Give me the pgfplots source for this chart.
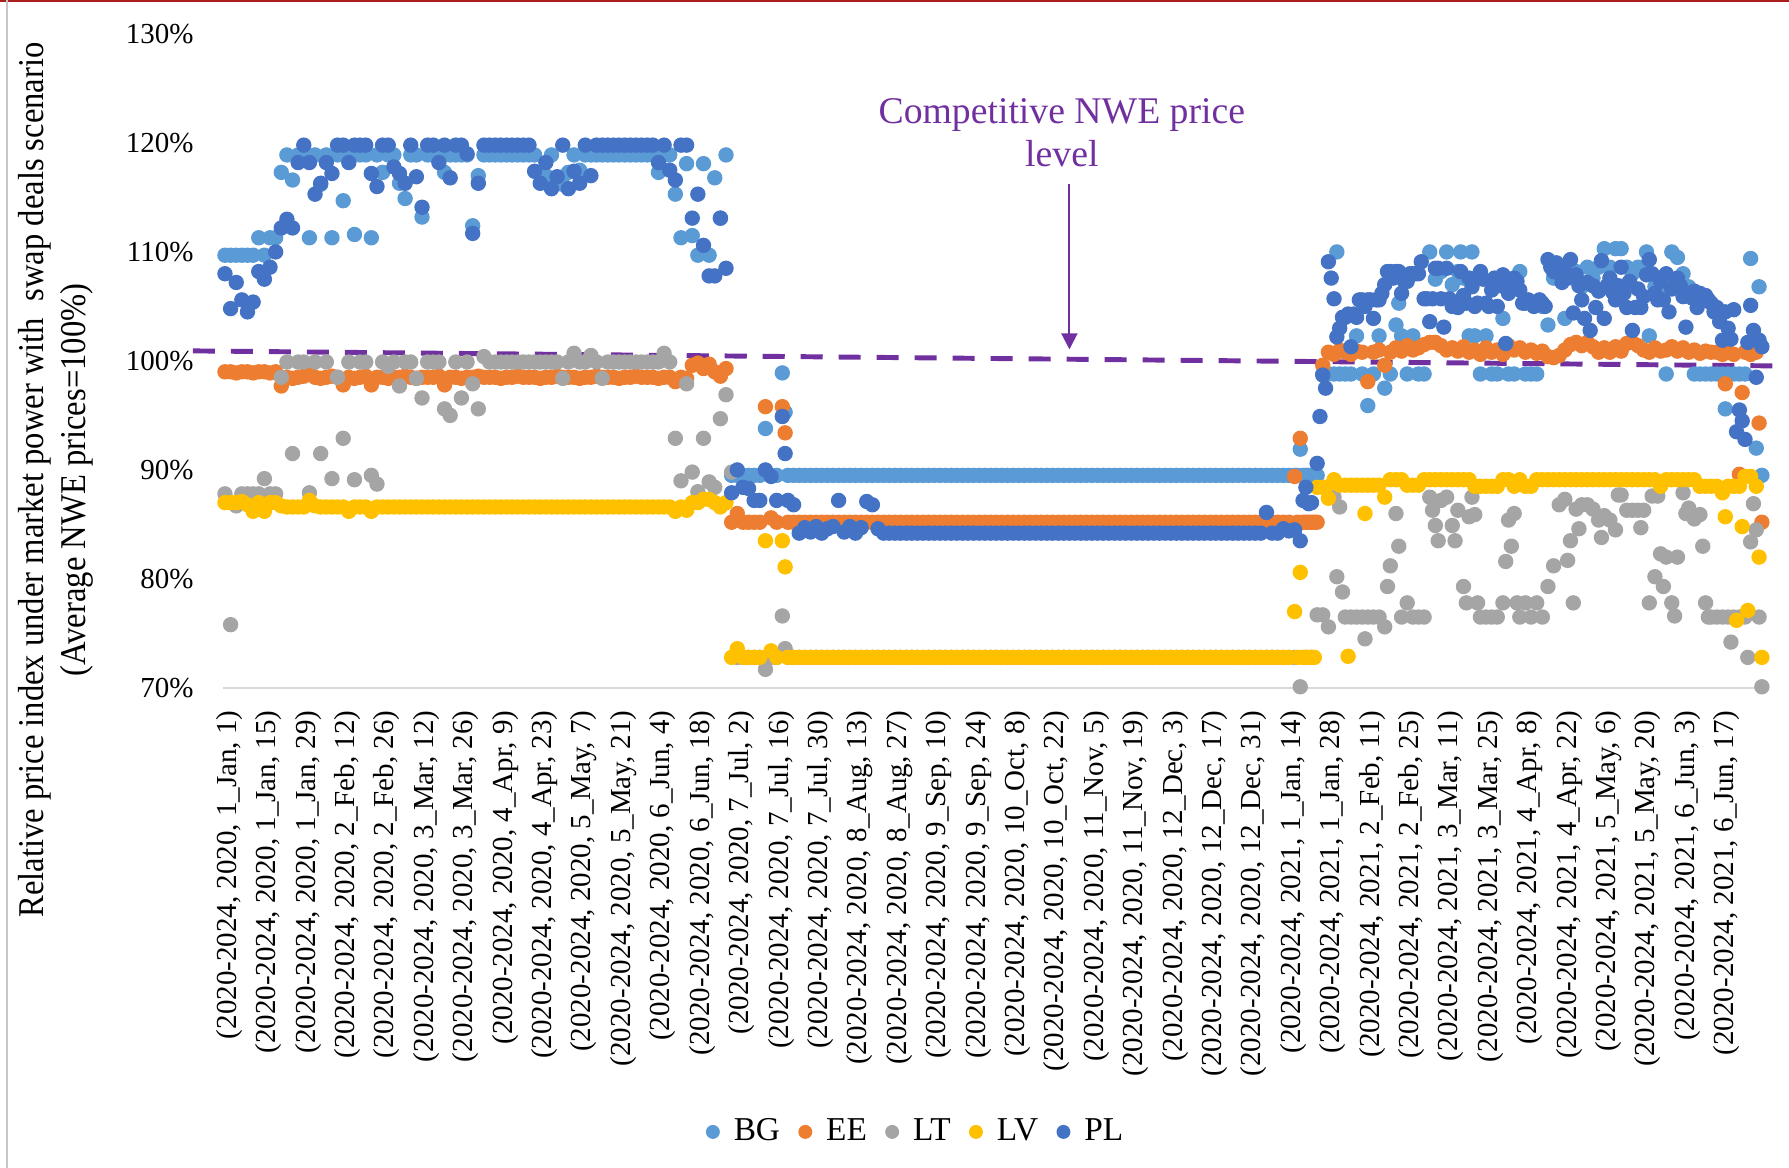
\documentclass[border=0pt]{standalone}
\usepackage{fontspec}
\setmainfont{Liberation Serif}
\usepackage{graphicx}
\usepackage{pgfplots}
\usepackage{pgfplotstable}
\pgfplotsset{compat=1.18}
\usetikzlibrary{arrows.meta}
\definecolor{cBG}{HTML}{5B9BD5}
\definecolor{cEE}{HTML}{ED7D31}
\definecolor{cLT}{HTML}{A5A5A5}
\definecolor{cLV}{HTML}{FFC000}
\definecolor{cPL}{HTML}{4472C4}
\definecolor{cPurple}{HTML}{7030A0}
\definecolor{cAxis}{HTML}{D9D9D9}

\pgfplotstableread{
d BG EE LT LV PL
0 109.7 99.0 87.8 87.0 108.0
2 109.7 99.0 75.8 87.0 104.8
4 109.7 98.9 86.7 87.0 107.2
6 109.7 99.0 87.8 87.1 105.6
8 109.7 99.0 87.8 86.8 104.5
10 109.7 98.9 87.8 86.2 105.4
12 111.3 99.0 87.8 87.0 108.2
14 109.7 99.0 89.2 86.2 107.5
16 111.3 98.9 87.8 87.0 108.6
18 111.3 99.0 87.8 87.0 110.0
20 117.3 97.7 98.5 86.7 112.2
22 118.9 98.5 99.9 86.6 113.0
24 116.6 98.4 91.5 86.6 112.2
26 118.9 98.5 99.9 86.6 118.2
28 118.9 98.6 99.9 86.6 119.8
30 111.3 99.0 87.9 87.2 118.2
32 118.9 98.5 99.9 86.7 115.3
34 116.2 98.4 91.5 86.6 116.3
36 118.9 98.5 99.9 86.6 118.2
38 111.3 98.6 89.2 86.6 117.2
40 118.9 98.5 98.5 86.6 119.8
42 114.7 97.8 92.9 86.6 119.8
44 118.9 98.5 99.9 86.2 118.2
46 111.6 98.4 89.1 86.6 119.8
48 118.9 98.5 99.9 86.6 119.8
50 118.9 98.6 99.9 86.6 119.8
52 111.3 97.8 89.5 86.2 117.2
54 118.9 98.5 88.7 86.6 116.0
56 117.3 98.5 99.9 86.6 119.8
58 118.9 98.4 99.5 86.6 119.8
60 118.9 98.5 99.9 86.6 117.8
62 116.3 98.5 97.7 86.6 117.2
64 114.9 98.6 99.9 86.6 116.3
66 118.9 98.5 99.9 86.6 119.8
68 118.9 98.4 98.4 86.6 116.9
70 113.2 98.5 96.6 86.6 114.1
72 118.9 98.5 99.9 86.6 119.8
74 118.9 98.5 99.9 86.6 119.8
76 118.9 98.6 99.9 86.6 118.2
78 117.3 97.8 95.6 86.6 119.8
80 118.9 98.5 95.0 86.6 116.8
82 118.9 98.5 99.9 86.6 119.8
84 118.9 98.4 96.6 86.6 119.8
86 118.9 98.5 99.9 86.6 119.0
88 112.4 98.5 97.9 86.6 111.7
90 117.0 98.6 95.6 86.6 116.3
92 118.9 98.5 100.4 86.6 119.8
94 118.9 98.5 99.9 86.6 119.8
96 118.9 98.5 99.9 86.6 119.8
98 118.9 98.4 99.9 86.6 119.8
100 118.9 98.5 99.9 86.6 119.8
102 118.9 98.5 99.9 86.6 119.8
104 118.9 98.6 99.9 86.6 119.8
106 118.9 98.5 99.9 86.6 119.8
108 118.9 98.5 99.9 86.6 119.8
110 118.9 98.5 99.9 86.6 117.4
112 117.3 98.4 99.9 86.6 116.3
114 117.0 98.5 99.9 86.6 118.2
116 118.9 98.5 99.9 86.6 115.8
118 116.8 98.6 99.9 86.6 116.9
120 116.2 98.5 98.4 86.6 119.8
122 117.3 98.5 99.9 86.6 115.8
124 118.9 98.5 100.7 86.6 117.4
126 117.5 98.4 99.9 86.6 116.3
128 118.9 98.5 99.9 86.6 119.8
130 118.9 98.5 100.5 86.6 117.0
132 118.9 98.6 99.9 86.6 119.8
134 118.9 98.5 98.4 86.6 119.8
136 118.9 98.5 99.9 86.6 119.8
138 118.9 98.5 99.9 86.6 119.8
140 118.9 98.4 99.9 86.6 119.8
142 118.9 98.5 99.9 86.6 119.8
144 118.9 98.5 99.9 86.6 119.8
146 118.9 98.6 99.9 86.6 119.8
148 118.9 98.5 99.9 86.6 119.8
150 118.9 98.5 99.9 86.6 119.8
152 118.9 98.5 99.9 86.6 119.8
154 117.3 98.4 99.9 86.6 118.2
156 118.9 98.5 100.7 86.6 119.8
158 118.9 98.5 99.9 86.6 117.5
160 115.3 98.1 92.9 86.2 116.6
162 111.3 98.5 89.0 86.6 119.8
164 118.1 98.4 97.9 86.3 119.8
166 111.5 99.6 89.8 87.0 113.1
168 109.7 99.8 88.0 87.0 115.3
170 118.1 99.3 92.9 87.3 110.6
172 109.7 99.7 88.9 87.3 107.8
174 116.8 99.0 88.4 87.0 107.8
176 113.1 98.6 94.7 86.6 113.1
178 118.9 99.3 96.9 87.0 108.5
180 89.5 85.2 89.8 72.8 87.9
182 89.5 86.0 72.8 73.6 90.0
184 89.5 85.2 72.8 72.8 88.4
186 89.5 85.2 72.8 72.8 88.3
188 89.5 85.2 72.8 72.8 87.2
190 89.5 85.2 72.8 72.8 87.2
192 93.8 95.8 71.7 83.5 90.0
194 89.5 85.6 72.8 73.4 89.4
196 89.5 85.2 72.8 72.8 87.2
198 98.9 95.8 76.6 83.5 94.9
199 95.3 93.4 73.6 81.1 91.5
200 89.5 85.2 72.8 72.8 87.2
202 89.5 85.2 72.8 72.8 86.8
204 89.5 85.2 72.8 72.8 84.2
206 89.5 85.2 72.8 72.8 84.7
208 89.5 85.2 72.8 72.8 84.3
210 89.5 85.2 72.8 72.8 84.8
212 89.5 85.2 72.8 72.8 84.2
214 89.5 85.2 72.8 72.8 84.6
216 89.5 85.2 72.8 72.8 84.8
218 89.5 85.2 72.8 72.8 87.2
220 89.5 85.2 72.8 72.8 84.3
222 89.5 85.2 72.8 72.8 84.8
224 89.5 85.2 72.8 72.8 84.2
226 89.5 85.2 72.8 72.8 84.7
228 89.5 85.2 72.8 72.8 87.1
230 89.5 85.2 72.8 72.8 86.8
232 89.5 85.2 72.8 72.8 84.6
234 89.5 85.2 72.8 72.8 84.2
236 89.5 85.2 72.8 72.8 84.2
238 89.5 85.2 72.8 72.8 84.2
240 89.5 85.2 72.8 72.8 84.2
242 89.5 85.2 72.8 72.8 84.2
244 89.5 85.2 72.8 72.8 84.2
246 89.5 85.2 72.8 72.8 84.2
248 89.5 85.2 72.8 72.8 84.2
250 89.5 85.2 72.8 72.8 84.2
252 89.5 85.2 72.8 72.8 84.2
254 89.5 85.2 72.8 72.8 84.2
256 89.5 85.2 72.8 72.8 84.2
258 89.5 85.2 72.8 72.8 84.2
260 89.5 85.2 72.8 72.8 84.2
262 89.5 85.2 72.8 72.8 84.2
264 89.5 85.2 72.8 72.8 84.2
266 89.5 85.2 72.8 72.8 84.2
268 89.5 85.2 72.8 72.8 84.2
270 89.5 85.2 72.8 72.8 84.2
272 89.5 85.2 72.8 72.8 84.2
274 89.5 85.2 72.8 72.8 84.2
276 89.5 85.2 72.8 72.8 84.2
278 89.5 85.2 72.8 72.8 84.2
280 89.5 85.2 72.8 72.8 84.2
282 89.5 85.2 72.8 72.8 84.2
284 89.5 85.2 72.8 72.8 84.2
286 89.5 85.2 72.8 72.8 84.2
288 89.5 85.2 72.8 72.8 84.2
290 89.5 85.2 72.8 72.8 84.2
292 89.5 85.2 72.8 72.8 84.2
294 89.5 85.2 72.8 72.8 84.2
296 89.5 85.2 72.8 72.8 84.2
298 89.5 85.2 72.8 72.8 84.2
300 89.5 85.2 72.8 72.8 84.2
302 89.5 85.2 72.8 72.8 84.2
304 89.5 85.2 72.8 72.8 84.2
306 89.5 85.2 72.8 72.8 84.2
308 89.5 85.2 72.8 72.8 84.2
310 89.5 85.2 72.8 72.8 84.2
312 89.5 85.2 72.8 72.8 84.2
314 89.5 85.2 72.8 72.8 84.2
316 89.5 85.2 72.8 72.8 84.2
318 89.5 85.2 72.8 72.8 84.2
320 89.5 85.2 72.8 72.8 84.2
322 89.5 85.2 72.8 72.8 84.2
324 89.5 85.2 72.8 72.8 84.2
326 89.5 85.2 72.8 72.8 84.2
328 89.5 85.2 72.8 72.8 84.2
330 89.5 85.2 72.8 72.8 84.2
332 89.5 85.2 72.8 72.8 84.2
334 89.5 85.2 72.8 72.8 84.2
336 89.5 85.2 72.8 72.8 84.2
338 89.5 85.2 72.8 72.8 84.2
340 89.5 85.2 72.8 72.8 84.2
342 89.5 85.2 72.8 72.8 84.2
344 89.5 85.2 72.8 72.8 84.2
346 89.5 85.2 72.8 72.8 84.2
348 89.5 85.2 72.8 72.8 84.2
350 89.5 85.2 72.8 72.8 84.2
352 89.5 85.2 72.8 72.8 84.2
354 89.5 85.2 72.8 72.8 84.2
356 89.5 85.2 72.8 72.8 84.2
358 89.5 85.2 72.8 72.8 84.2
360 89.5 85.2 72.8 72.8 84.2
362 89.5 85.2 72.8 72.8 84.2
364 89.5 85.2 72.8 72.8 84.2
366 89.5 85.2 72.8 72.8 84.2
368 89.5 85.2 72.8 72.8 84.2
370 89.5 85.2 72.8 72.8 86.1
372 89.5 85.2 72.8 72.8 84.2
374 89.5 85.2 72.8 72.8 84.2
376 89.5 85.2 72.8 72.8 84.6
378 89.5 85.2 72.8 72.8 84.4
380 89.5 89.4 72.8 77.0 84.5
381 89.5 85.2 nan 72.8 nan
382 91.9 92.9 70.1 80.6 83.5
383 89.5 85.2 nan 72.8 87.2
384 89.5 85.2 72.8 72.8 88.4
385 89.5 85.2 nan 72.8 86.9
386 89.5 85.2 72.8 72.8 87.0
387 89.5 85.2 nan 72.8 nan
388 89.5 85.2 76.7 88.4 90.6
389 nan nan nan nan 94.9
390 98.8 99.6 76.7 88.4 98.7
391 nan nan nan 88.4 97.5
392 98.8 100.8 75.6 87.4 109.1
393 nan nan nan nan 107.6
394 98.8 100.6 87.5 89.1 105.7
395 110.0 nan 80.2 nan 102.2
396 98.8 101.0 86.6 88.6 103.0
397 nan nan 78.8 nan 104.0
398 98.8 100.8 76.5 88.6 104.0
399 nan nan nan 72.9 104.3
400 98.8 100.6 76.5 88.6 101.3
401 nan nan nan nan 104.3
402 102.3 100.9 76.5 88.6 104.0
403 nan nan nan nan 105.6
404 98.8 100.8 76.5 88.6 105.6
405 nan nan 74.5 86.0 105.0
406 95.9 98.1 76.5 88.6 105.6
407 nan nan nan nan 105.6
408 98.8 100.8 76.5 88.6 103.9
409 nan nan nan nan 105.6
410 102.3 101.0 76.5 88.6 105.6
411 nan nan nan nan 106.2
412 97.5 99.6 75.6 87.5 107.0
413 nan nan 79.3 nan 108.2
414 98.8 100.8 81.2 89.1 108.2
415 nan nan nan nan 107.6
416 103.3 101.2 86.0 89.1 108.2
417 105.3 nan 83.0 nan 108.2
418 102.3 100.9 76.5 89.1 106.2
419 nan nan nan nan 107.3
420 98.8 101.4 77.8 88.6 107.3
421 nan nan nan nan 108.0
422 102.3 101.0 76.5 88.6 108.0
423 nan nan nan nan 108.0
424 98.8 101.2 76.5 88.6 108.0
425 nan nan nan nan 109.1
426 98.8 101.5 76.5 89.1 105.7
427 nan nan nan nan 105.7
428 110.0 101.7 87.5 89.1 103.6
429 nan nan 86.3 nan 105.7
430 107.5 101.7 84.9 89.1 108.5
431 nan nan 83.5 nan 108.5
432 108.2 101.4 87.2 89.1 105.7
433 nan nan nan nan 103.1
434 110.0 101.0 87.5 89.1 108.5
435 nan nan nan nan 105.7
436 107.0 101.2 84.9 89.1 105.0
437 nan nan 83.5 nan 105.3
438 108.2 100.9 86.3 89.1 104.9
439 110.0 nan nan nan 108.2
440 107.6 101.3 79.3 89.1 106.0
441 nan nan 77.8 nan 105.3
442 102.3 100.8 85.7 89.1 107.6
443 110.0 nan 87.5 nan 106.8
444 102.3 101.0 85.9 88.5 105.0
445 nan nan 77.8 nan 105.3
446 98.8 100.6 76.5 88.5 108.2
447 nan nan nan nan 107.5
448 102.3 101.2 76.5 88.5 105.3
449 nan nan nan nan 105.0
450 98.8 100.8 76.5 88.5 106.5
451 nan nan nan nan 107.6
452 98.8 101.0 76.5 88.5 105.0
453 nan nan nan nan 106.9
454 103.9 100.6 77.8 89.1 107.9
455 nan nan 81.6 nan 101.6
456 98.8 101.4 85.4 89.1 106.2
457 nan nan 83.0 nan 107.3
458 98.8 101.0 86.0 88.5 107.6
459 nan nan 77.8 nan 107.3
460 108.2 101.2 76.5 89.1 106.5
461 nan nan nan nan 105.3
462 98.8 100.8 77.8 88.5 105.3
463 nan nan nan nan 105.6
464 98.8 101.0 76.5 88.5 105.3
465 nan nan nan nan 105.0
466 98.8 100.7 77.8 89.1 105.3
467 nan nan nan nan 105.6
468 105.0 100.9 76.5 89.1 105.3
469 nan nan nan nan 105.0
470 103.3 100.4 79.3 89.1 109.3
471 nan nan nan nan 108.6
472 107.6 100.3 81.2 89.1 108.2
473 nan nan nan nan 109.0
474 108.6 100.5 86.8 89.1 108.0
475 nan nan nan nan 107.2
476 103.9 101.0 87.3 89.1 108.2
477 nan nan 81.7 nan 107.6
478 108.6 101.5 83.5 89.1 109.3
479 nan nan 77.8 nan 104.4
480 108.2 101.7 86.4 89.1 107.9
481 nan nan 84.6 nan 106.9
482 106.8 101.4 86.8 89.1 105.6
483 nan nan nan nan 103.9
484 108.6 101.7 86.8 89.1 107.2
485 nan nan nan nan 102.8
486 107.6 101.3 86.4 89.1 106.9
487 nan nan nan nan 104.9
488 108.6 100.8 85.4 89.1 106.4
489 nan nan 83.8 nan 109.2
490 110.3 101.2 85.8 89.1 103.9
491 nan nan nan nan 106.9
492 108.6 100.8 85.4 89.1 107.6
493 nan nan nan nan 106.3
494 110.3 101.3 84.5 89.1 105.6
495 nan nan 87.7 nan 106.9
496 110.3 100.9 87.7 89.1 108.6
497 nan nan nan nan 106.2
498 108.6 101.6 86.3 89.1 104.9
499 nan nan nan nan 107.3
500 108.0 101.7 86.3 89.1 102.8
501 nan nan nan nan 104.9
502 108.6 101.4 86.3 89.1 106.6
503 nan nan 84.7 nan 104.9
504 108.6 101.0 86.3 89.1 105.9
505 110.0 nan nan nan 107.9
506 102.3 100.8 77.8 89.1 109.3
507 nan nan 87.6 nan 108.0
508 106.8 101.2 80.2 89.1 106.2
509 nan nan 87.6 nan 105.6
510 106.8 100.9 82.3 88.5 107.3
511 nan nan 79.3 nan 105.6
512 98.8 101.0 82.0 89.1 108.0
513 nan nan nan nan 104.5
514 110.0 101.3 77.8 89.1 106.6
515 nan nan 76.6 nan 106.9
516 109.5 100.9 82.0 89.1 107.6
517 nan nan nan nan 106.9
518 108.0 101.2 87.9 89.1 105.9
519 nan nan 86.0 nan 103.1
520 106.8 100.8 86.5 89.1 106.2
521 nan nan nan nan 105.8
522 98.8 101.0 85.5 89.1 106.4
523 nan nan nan nan 104.9
524 98.8 100.7 85.9 88.5 106.2
525 nan nan 83.0 nan 105.8
526 98.8 100.9 77.8 88.5 106.0
527 nan nan 76.5 nan 105.6
528 98.8 100.8 76.5 88.5 105.3
529 nan nan nan nan 104.5
530 98.8 100.8 76.5 88.5 104.9
531 nan nan nan nan 103.6
532 98.8 100.6 76.5 87.9 101.9
533 95.6 97.9 nan 85.7 104.5
534 98.8 100.8 76.5 88.5 103.0
535 nan nan 74.2 nan 102.0
536 98.8 100.6 76.5 88.5 104.7
537 nan nan nan 76.2 93.5
538 98.8 89.6 76.5 88.5 95.5
539 nan 97.1 nan 84.8 94.5
540 98.8 100.8 76.5 89.4 92.8
541 nan nan 72.8 77.1 101.7
542 109.4 100.6 83.4 89.4 105.1
543 nan nan 86.9 nan 102.8
544 92.0 100.8 84.5 88.5 98.5
545 106.8 94.3 76.5 82.0 101.9
546 89.5 85.2 70.1 72.8 101.3
}\datatable

\begin{document}
\begin{tikzpicture}
\useasboundingbox (-76.9pt,-165.5pt) rectangle (540pt,237.2pt);
\begin{axis}[
  scale only axis, width=532.4pt, height=225.5pt,
  at={(0pt,0pt)}, anchor=south west,
  xmin=-0.7, xmax=547.8, ymin=70, ymax=130,
  clip=false,
  axis x line*=bottom, axis y line*=left,
  x axis line style={draw=cAxis, line width=0.8pt},
  y axis line style={draw=none},
  major tick length=0pt,
  xtick={0,14,...,532},
  xticklabels={
    {(2020-2024, 2020, 1\_Jan, 1)},{(2020-2024, 2020, 1\_Jan, 15)},{(2020-2024, 2020, 1\_Jan, 29)},
    {(2020-2024, 2020, 2\_Feb, 12)},{(2020-2024, 2020, 2\_Feb, 26)},{(2020-2024, 2020, 3\_Mar, 12)},
    {(2020-2024, 2020, 3\_Mar, 26)},{(2020-2024, 2020, 4\_Apr, 9)},{(2020-2024, 2020, 4\_Apr, 23)},
    {(2020-2024, 2020, 5\_May, 7)},{(2020-2024, 2020, 5\_May, 21)},{(2020-2024, 2020, 6\_Jun, 4)},
    {(2020-2024, 2020, 6\_Jun, 18)},{(2020-2024, 2020, 7\_Jul, 2)},{(2020-2024, 2020, 7\_Jul, 16)},
    {(2020-2024, 2020, 7\_Jul, 30)},{(2020-2024, 2020, 8\_Aug, 13)},{(2020-2024, 2020, 8\_Aug, 27)},
    {(2020-2024, 2020, 9\_Sep, 10)},{(2020-2024, 2020, 9\_Sep, 24)},{(2020-2024, 2020, 10\_Oct, 8)},
    {(2020-2024, 2020, 10\_Oct, 22)},{(2020-2024, 2020, 11\_Nov, 5)},{(2020-2024, 2020, 11\_Nov, 19)},
    {(2020-2024, 2020, 12\_Dec, 3)},{(2020-2024, 2020, 12\_Dec, 17)},{(2020-2024, 2020, 12\_Dec, 31)},
    {(2020-2024, 2021, 1\_Jan, 14)},{(2020-2024, 2021, 1\_Jan, 28)},{(2020-2024, 2021, 2\_Feb, 11)},
    {(2020-2024, 2021, 2\_Feb, 25)},{(2020-2024, 2021, 3\_Mar, 11)},{(2020-2024, 2021, 3\_Mar, 25)},
    {(2020-2024, 2021, 4\_Apr, 8)},{(2020-2024, 2021, 4\_Apr, 22)},{(2020-2024, 2021, 5\_May, 6)},
    {(2020-2024, 2021, 5\_May, 20)},{(2020-2024, 2021, 6\_Jun, 3)},{(2020-2024, 2021, 6\_Jun, 17)}},
  xticklabel style={xshift=1.5pt, rotate=90, anchor=east, inner xsep=7.6pt, inner ysep=0pt, font=\fontsize{10}{12}\selectfont},
  ytick={70,80,90,100,110,120,130},
  yticklabels={70\%,80\%,90\%,100\%,110\%,120\%,130\%},
  yticklabel style={anchor=east, inner xsep=0pt, xshift=-10pt, font=\fontsize{10}{12}\selectfont},
  legend columns=5,
  legend style={at={(0.4500,-0.679)}, anchor=center, draw=none, fill=none,
    font=\fontsize{11.5}{13}\selectfont,
    /tikz/every odd column/.append style={column sep=3pt},
    /tikz/every even column/.append style={column sep=4.5pt}},
  legend image code/.code={\draw[#1, mark size=2.2pt] plot coordinates {(0pt,0pt)};},
  every axis plot/.append style={only marks, mark=*, mark size=2.45pt},
]
\addplot[cBG, mark options={fill=cBG, draw=cBG}] table[x=d, y=BG] {\datatable};
\addlegendentry{BG}
\addplot[cEE, mark options={fill=cEE, draw=cEE}] table[x=d, y=EE] {\datatable};
\addlegendentry{EE}
\addplot[cLT, mark options={fill=cLT, draw=cLT}] table[x=d, y=LT] {\datatable};
\addlegendentry{LT}
\addplot[cLV, mark options={fill=cLV, draw=cLV}] table[x=d, y=LV] {\datatable};
\addlegendentry{LV}
\addplot[cPL, mark options={fill=cPL, draw=cPL}] table[x=d, y=PL] {\datatable};
\addlegendentry{PL}

\draw[cPurple, line width=1.7pt, dash pattern=on 7.6pt off 5.5pt] (axis cs:-11.4,100.92) -- (axis cs:551.3,99.54);
\draw[cPurple, line width=0.7pt, -{Triangle[length=5.5pt, width=5.5pt]}] (axis cs:300,116.2) -- (axis cs:300,101.06);
\node[text=cPurple, align=center, font=\fontsize{13}{14.8}\selectfont] at (axis cs:297.3,120.95) {Competitive NWE price\\level};
\end{axis}
\node[rotate=90, align=center, font=\fontsize{12.5}{14.5}\selectfont] at (-57.6pt,71.7pt)
  {\scalebox{0.9}[1]{Relative price index under market power with\ \ swap deals scenario}\\\scalebox{0.9}[1]{(Average NWE prices=100\%)}};
\draw[color={rgb,255:red,170;green,30;blue,30}, line width=0.8pt] (-76.9pt,236.8pt) -- (540pt,236.8pt);
\draw[gray!45, line width=0.4pt] (-74.5pt,-165.5pt) -- (-74.5pt,237.2pt);
\end{tikzpicture}
\end{document}
